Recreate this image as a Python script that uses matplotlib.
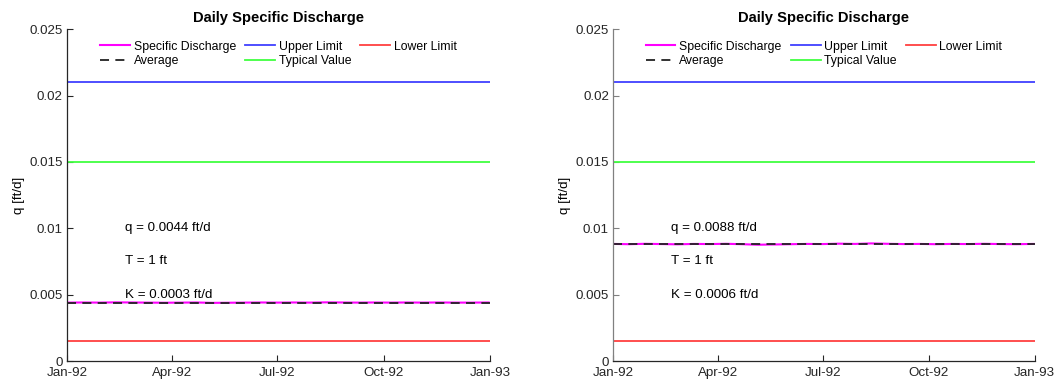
import matplotlib
matplotlib.use("Agg")
import matplotlib.pyplot as plt
import numpy as np
import pandas as pd

plt.rcParams['font.family'] = ['Liberation Sans', 'DejaVu Sans']

# ---- data ----
sample_dates = pd.to_datetime([
    "1992-01-01", "1992-01-15", "1992-01-29", "1992-02-12", "1992-02-26",
    "1992-03-11", "1992-03-25", "1992-04-08", "1992-04-22", "1992-05-06",
    "1992-05-20", "1992-06-03", "1992-06-17", "1992-07-01", "1992-07-15",
    "1992-07-29", "1992-08-12", "1992-08-26", "1992-09-09", "1992-09-23",
    "1992-10-07", "1992-10-21", "1992-11-04", "1992-11-18", "1992-12-02",
    "1992-12-16", "1992-12-31"])
q_left = [0.00440, 0.00441, 0.00440, 0.00442, 0.00441, 0.00440, 0.00439,
          0.00440, 0.00441, 0.00438, 0.00439, 0.00440, 0.00441, 0.00440,
          0.00441, 0.00440, 0.00442, 0.00441, 0.00440, 0.00441, 0.00440,
          0.00441, 0.00440, 0.00441, 0.00440, 0.00440, 0.00441]
q_right = [0.00882, 0.00880, 0.00883, 0.00881, 0.00879, 0.00882, 0.00881,
           0.00883, 0.00880, 0.00876, 0.00878, 0.00880, 0.00882, 0.00881,
           0.00884, 0.00882, 0.00886, 0.00883, 0.00881, 0.00882, 0.00880,
           0.00882, 0.00881, 0.00883, 0.00881, 0.00880, 0.00882]
avg_values = [0.0044, 0.0088]
upper_limit = 0.021
typical_value = 0.015
lower_limit = 0.0015
q_text = ["q = 0.0044 ft/d", "q = 0.0088 ft/d"]
t_text = ["T = 1 ft", "T = 1 ft"]
k_text = ["K = 0.0003 ft/d", "K = 0.0006 ft/d"]
tick_dates = pd.to_datetime(["1992-01-01", "1992-04-01", "1992-07-01",
                             "1992-10-01", "1993-01-01"])
tick_labels = ["Jan-92", "Apr-92", "Jul-92", "Oct-92", "Jan-93"]
y_ticks = [0, 0.005, 0.01, 0.015, 0.02, 0.025]
y_tick_labels = ["0", "0.005", "0.01", "0.015", "0.02", "0.025"]

xstart = pd.Timestamp("1992-01-01")
xend = pd.Timestamp("1993-01-01")
text_x = pd.Timestamp("1992-02-20")

fig = plt.figure(figsize=(10.57, 3.85), dpi=100)
positions = [[0.0634, 0.0623, 0.400, 0.862], [0.580, 0.0623, 0.399, 0.862]]
series = [q_left, q_right]
yaxis_colors = ['#262626', '#808080']

for i in range(2):
    ax = fig.add_axes(positions[i])
    h_sd, = ax.plot(sample_dates, series[i], color='#ff00ff', lw=1.5, label='Specific Discharge')
    h_av, = ax.plot([xstart, xend], [avg_values[i]] * 2, color='#222222', lw=1.3,
                    ls=(0, (5, 3.5)), label='Average')
    h_up, = ax.plot([xstart, xend], [upper_limit] * 2, color='#4040ff', lw=1.3, label='Upper Limit')
    h_ty, = ax.plot([xstart, xend], [typical_value] * 2, color='#40ff40', lw=1.3, label='Typical Value')
    h_lo, = ax.plot([xstart, xend], [lower_limit] * 2, color='#ff4040', lw=1.3, label='Lower Limit')

    ax.set_xlim(xstart, xend)
    ax.set_ylim(0, 0.025)
    ax.set_xticks(tick_dates)
    ax.set_xticklabels(tick_labels)
    ax.set_yticks(y_ticks)
    ax.set_yticklabels(y_tick_labels)
    ax.tick_params(direction='in', length=4, width=0.8, labelsize=9.6, colors='#262626', pad=3)
    ax.tick_params(axis='x', pad=4.5)
    ax.spines['top'].set_visible(False)
    ax.spines['right'].set_visible(False)
    ax.spines['left'].set_color(yaxis_colors[i])
    ax.spines['bottom'].set_color('#262626')
    ax.spines['left'].set_linewidth(0.9)
    ax.spines['bottom'].set_linewidth(0.9)
    ax.tick_params(axis='y', color=yaxis_colors[i])

    ax.set_title('Daily Specific Discharge', fontsize=10.6, fontweight='bold', pad=5)
    ax.set_ylabel('q [ft/d]', fontsize=9.6, labelpad=3)

    ax.text(text_x, 0.01, q_text[i], fontsize=9.6, va='center', ha='left')
    ax.text(text_x, 0.0075, t_text[i], fontsize=9.6, va='center', ha='left')
    ax.text(text_x, 0.005, k_text[i], fontsize=9.6, va='center', ha='left')

    ax.legend(handles=[h_sd, h_av, h_up, h_ty, h_lo], ncol=3, frameon=False,
              loc='upper center', bbox_to_anchor=(0.5, 0.965), fontsize=8.8,
              handlelength=2.45, handletextpad=0.3, columnspacing=0.75,
              labelspacing=0.22, borderpad=0, borderaxespad=0)

fig.savefig('out.png', dpi=100)
